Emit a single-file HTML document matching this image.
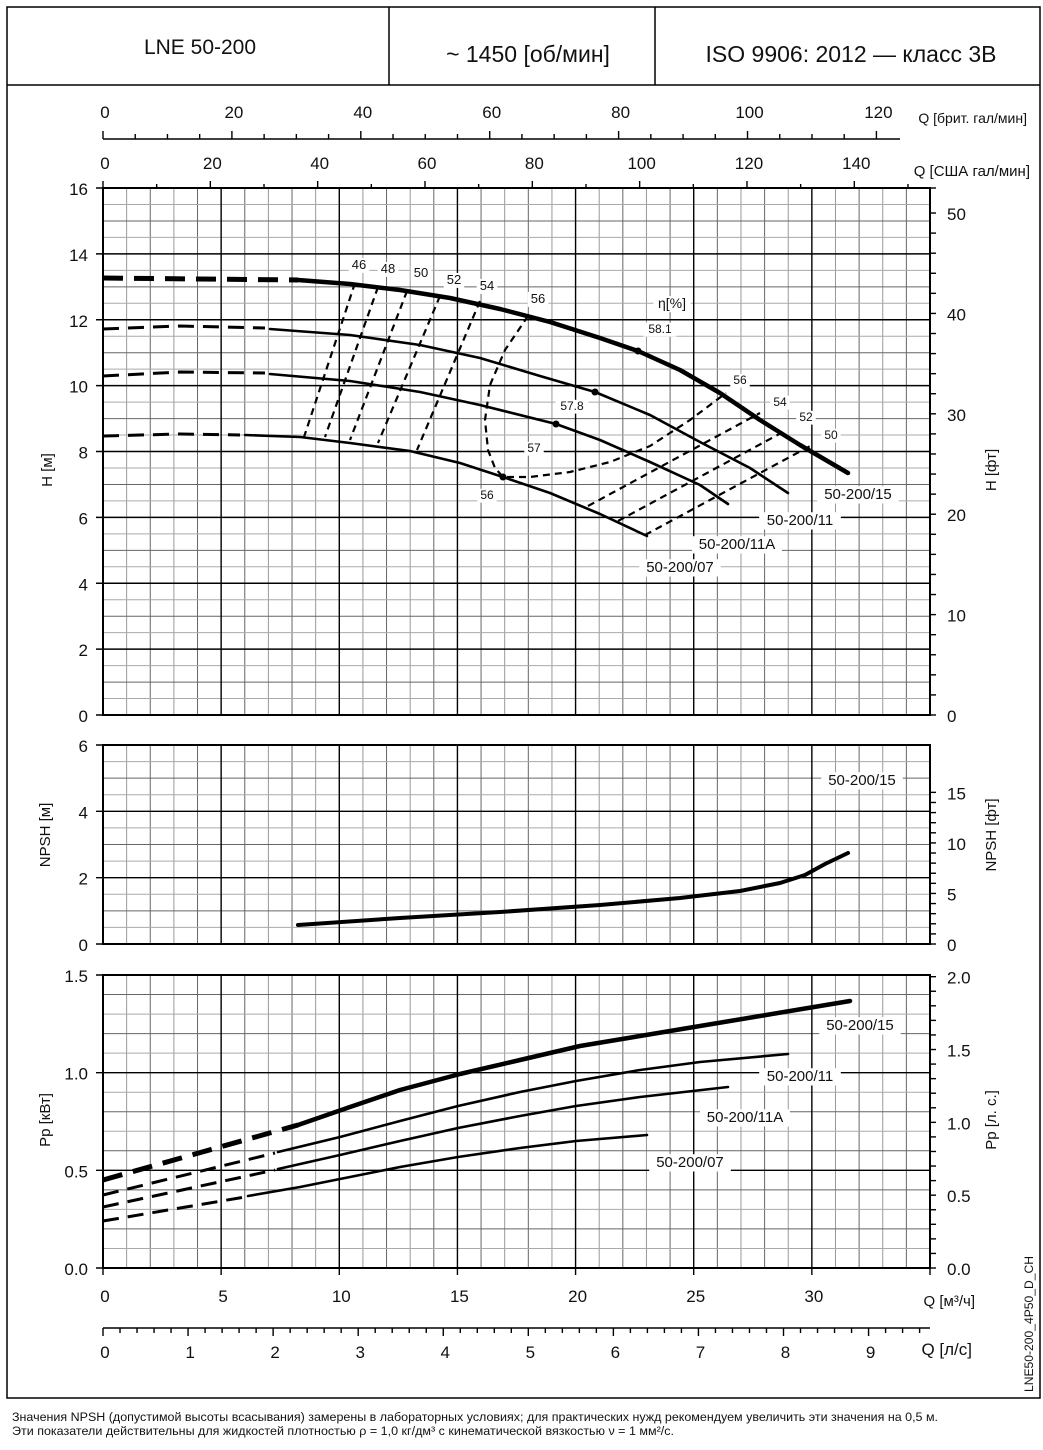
<!DOCTYPE html>
<html><head><meta charset="utf-8"><style>
body{margin:0;background:#fff;}
svg text{font-family:"Liberation Sans","DejaVu Sans",sans-serif;fill:#111;}
</style></head><body>
<svg id="s" width="1043" height="1445" viewBox="0 0 1043 1445" xmlns="http://www.w3.org/2000/svg">
<rect x="7" y="7" width="1033" height="1391" fill="none" stroke="#000" stroke-width="1.5"/>
<line x1="7" y1="85" x2="1040" y2="85" stroke="#000" stroke-width="1.5"/>
<line x1="389" y1="7" x2="389" y2="85" stroke="#000" stroke-width="1.5"/>
<line x1="655" y1="7" x2="655" y2="85" stroke="#000" stroke-width="1.5"/>
<text x="200" y="54" font-size="21" text-anchor="middle">LNE 50-200</text>
<text x="528" y="62" font-size="23" text-anchor="middle">~ 1450 [об/мин]</text>
<text x="851" y="62" font-size="23" text-anchor="middle">ISO 9906: 2012 — класс 3В</text>
<g id="g"></g>
<text x="12" y="1421" font-size="12.3" textLength="926" lengthAdjust="spacingAndGlyphs">Значения NPSH (допустимой высоты всасывания) замерены в лабораторных условиях; для практических нужд рекомендуем увеличить эти значения на 0,5 м.</text>
<text x="12" y="1435" font-size="12.3" textLength="662" lengthAdjust="spacingAndGlyphs">Эти показатели действительны для жидкостей плотностью ρ = 1,0 кг/дм³ с кинематической вязкостью ν = 1 мм²/с.</text>
<text transform="translate(1033,1392) rotate(-90)" font-size="12" textLength="136" lengthAdjust="spacingAndGlyphs">LNE50-200_4P50_D_CH</text>
</svg>
<script>
var g=document.getElementById('g');var h='';
var X0=103,X1=930,px=827/35;
function L(a,b,c,d,col,w){h+='<line x1="'+a+'" y1="'+b+'" x2="'+c+'" y2="'+d+'" stroke="'+col+'" stroke-width="'+w+'"/>';}
function T(x,y,s,sz,anc,extra){h+='<text x="'+x+'" y="'+y+'" font-size="'+sz+'" text-anchor="'+(anc||'middle')+'" '+(extra||'')+'>'+s+'</text>';}
function grid(yt,yb,nh,majEvery){
 for(var i=0;i<=35;i++){var x=X0+i*px;if(i%5)L(x,yt,x,yb,i%2?'#999':'#666',1);}
 for(var j=0;j<=nh;j++){var y=yb-(yb-yt)*j/nh;if(j%majEvery)L(X0,y,X1,y,j%2?'#aaa':'#666',1);}
 for(var j=0;j<=nh;j+=majEvery){var y=yb-(yb-yt)*j/nh;L(X0-7,y,X1,y,'#000',1.4);}
 for(var i=0;i<=35;i+=5){var x=X0+i*px;L(x,yt,x,yb,'#000',1.4);}
 h+='<rect x="'+X0+'" y="'+yt+'" width="'+(X1-X0)+'" height="'+(yb-yt)+'" fill="none" stroke="#000" stroke-width="2"/>';
}
grid(188,715,32,4);
for(var k=0;k<=8;k++)T(88,715-k*65.875+7,2*k,17,'end');
grid(745,944,12,4);
for(var k=0;k<=3;k++)T(88,944-k*66.33+7,2*k,17,'end');
grid(975,1268,15,5);
['0.0','0.5','1.0','1.5'].forEach(function(s,k){T(88,1268-k*97.67+7,s,17,'end');});
function rax(y0,ppu,step,lab,maxv,tstep){
 for(var v=0;v<=maxv+1e-6;v+=tstep){var y=y0-v*ppu;L(930,y,936,y,'#000',1.4);}
 for(var v=0;v<=maxv+1e-6;v+=step){var y=y0-v*ppu;T(947,y+7,lab(v),17,'start');}
}
var ftH=65.875/2*0.3048;
rax(715,ftH,10,function(v){return Math.round(v)},50,2);
L(930,188,936,188,'#000',1.4);
var ftN=66.33/2*0.3048;
rax(944,ftN,5,function(v){return Math.round(v)},15,1);
var hpP=195.33*0.7457;
rax(1268,hpP,0.5,function(v){return v.toFixed(1)},2,0.1);
for(var i=0;i<=35;i+=5){var x=X0+i*px;L(x,1268,x,1275,'#000',1.4);if(i<35)T(x+2,1302,i,17);}
T(975,1306,'Q [м³/ч]',15,'end');
L(X0,1328,X1,1328,'#000',1.6);
var pl=3.6*px;
for(var v=0;v<=9.7;v+=0.2){var x=X0+v*pl;var mj=Math.abs(v-Math.round(v))<0.01;L(x,1328,x,mj?1336:1333,'#000',1.4);if(mj)T(x+2,1358,Math.round(v),17);}
T(972,1355,'Q [л/с]',17,'end');
var pu=0.22712*px;
for(var v=0;v<=150;v+=10){var x=X0+v*pu;L(x,188,x,v%20?184:181,'#000',1.4);if(v%20==0&&v<=140)T(x+2,169,v,17);}
T(1030,176,'Q [США гал/мин]',15,'end');
var pb=0.27277*px;
L(X0,139,900,139,'#000',1.6);
for(var v=0;v<=120;v+=5){var x=X0+v*pb;L(x,139,x,v%20?134:131,'#000',1.4);if(v%20==0)T(x+2,118,v,17);}
T(1027,123,'Q [брит. гал/мин]',14,'end');
function VT(x,y,s){h+='<text transform="translate('+x+','+y+') rotate(-90)" font-size="15" text-anchor="middle">'+s+'</text>';}
VT(52,470,'H [м]');VT(996,470,'H [фт]');VT(50,835,'NPSH [м]');VT(996,835,'NPSH [фт]');VT(50,1120,'Pp [кВт]');VT(996,1120,'Pp [л. с.]');
function P(pts,w,dash,col){h+='<polyline points="'+pts+'" fill="none" stroke="'+(col||'#000')+'" stroke-width="'+w+'" stroke-linejoin="round" '+(dash?'stroke-dasharray="'+dash+'"':'stroke-linecap="round"')+'/>';}
P('103,278 298,280',5,'20 11');
P('298,280 350,284 400,290 450,298 500,309 550,322 600,338 638,351 680,370 720,393 760,420 800,445 848,473',4.5);
P('103,329 180,326 265,328',3,'16 9');
P('270,329 350,335 420,345 480,358 540,376 595,392 650,415 700,442 750,468 788,493',2.6);
P('103,376 180,372 265,373',3,'16 9');
P('270,374 350,381 420,392 480,405 556,424 600,440 650,462 700,485 728,504',2.6);
P('103,436 180,434 240,435',3,'16 9');
P('245,435 300,437 350,443 410,451 460,463 503,477 550,493 600,514 647,536',2.6);
var ed='7 5';
P('355,283 304,437',2.2,ed);P('378,287 325,437',2.2,ed);P('407,291 350,440',2.2,ed);
P('440,296 378,443',2.2,ed);P('480,301 417,450',2.2,ed);
P('528,316 505,350 490,385 485,420 488,450 495,468 503,477 530,477 570,472 610,462 650,446 690,420 726,393',2.2,ed);
P('588,506 760,413',2.2,ed);P('618,521 783,432',2.2,ed);P('645,535 812,445',2.2,ed);
[[638,351],[595,392],[556,424],[503,477]].forEach(function(p){h+='<circle cx="'+p[0]+'" cy="'+p[1]+'" r="3.5" fill="#000"/>';});
function LB(x,y,s,sz){var w=s.length*sz*0.56+6;h+='<rect x="'+(x-w/2)+'" y="'+(y-sz*0.85)+'" width="'+w+'" height="'+(sz*1.15)+'" fill="#fff"/>';T(x,y,s,sz);}
LB(359,269,'46',13);LB(388,273,'48',13);LB(421,277,'50',13);LB(454,284,'52',13);LB(487,290,'54',13);LB(538,303,'56',13);
LB(672,308,'η[%]',14);LB(660,333,'58.1',12);LB(740,384,'56',12);LB(780,406,'54',12);LB(806,421,'52',12);LB(831,439,'50',12);
LB(572,410,'57.8',12);LB(534,452,'57',12);LB(487,499,'56',12);
LB(858,499,'50-200/15',15);LB(800,525,'50-200/11',15);LB(737,549,'50-200/11A',15);LB(680,572,'50-200/07',15);
P('298,925 400,918 500,912 600,905 680,898 740,891 780,883 805,875 825,864 848,853',4);
LB(862,785,'50-200/15',15);
P('103,1180 298,1125',5,'20 11');
P('298,1125 350,1107 400,1090 460,1074 520,1060 580,1046 640,1036 700,1026 760,1016 820,1006 850,1001',4.5);
P('103,1195 275,1153',3,'16 9');
P('278,1152 340,1137 400,1121 458,1106 520,1092 576,1081 640,1070 700,1062 788,1054',2.6);
P('103,1207 275,1170',3,'16 9');
P('278,1169 340,1155 400,1141 458,1128 520,1116 576,1106 640,1097 728,1087',2.6);
P('103,1221 245,1197',3,'16 9');
P('248,1196 300,1187 350,1177 400,1167 458,1157 520,1148 576,1141 647,1135',2.6);
LB(860,1030,'50-200/15',15);LB(800,1081,'50-200/11',15);LB(745,1122,'50-200/11A',15);LB(690,1167,'50-200/07',15);
g.innerHTML=h;
</script>
</body></html>
